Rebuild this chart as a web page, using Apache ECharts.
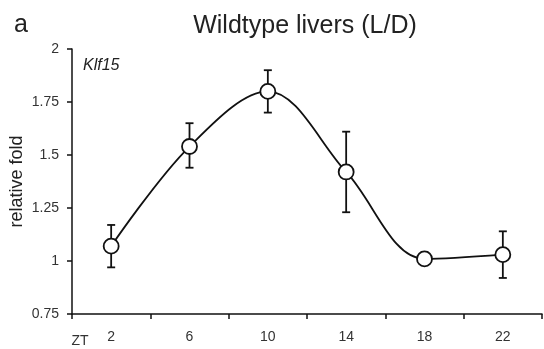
<!DOCTYPE html>
<html>
<head>
<meta charset="utf-8">
<script src="https://cdn.jsdelivr.net/npm/echarts@6/dist/echarts.min.js"></script>
<style>
  html, body { margin: 0; padding: 0; background: #fff; }
  #chart { width: 544px; height: 349px; }
</style>
</head>
<body>
<div id="chart"></div>
<script>
// ZT time points and Klf15 relative fold (mean, error bar ends)
const zt = ['2', '6', '10', '14', '18', '22'];
const foldMean = [1.07, 1.54, 1.80, 1.42, 1.01, 1.03];
const errLow = [0.97, 1.44, 1.70, 1.23, 0.98, 0.92];
const errHigh = [1.17, 1.65, 1.90, 1.61, 1.04, 1.14];
const yTicks = [0.75, 1, 1.25, 1.5, 1.75, 2];

const textFont = 'Liberation Sans, Arial, sans-serif';
let myChart = echarts.init(document.getElementById('chart'));

let option = {
  backgroundColor: '#fff',
  animation: false,
  textStyle: { fontFamily: textFont },
  title: [
    {
      text: 'Wildtype livers (L/D)',
      left: 300,
      top: 9,
      textAlign: 'center',
      textStyle: { fontSize: 25, fontWeight: 'normal', color: '#222', fontFamily: textFont }
    },
    {
      text: 'a',
      left: 9,
      top: 8,
      textStyle: { fontSize: 25, fontWeight: 'normal', color: '#222', fontFamily: textFont }
    },
    {
      text: 'Klf15',
      left: 78,
      top: 53,
      textStyle: { fontSize: 16, fontWeight: 'normal', fontStyle: 'italic', color: '#222', fontFamily: textFont }
    },
    {
      text: 'ZT',
      left: 75,
      top: 329,
      textAlign: 'center',
      textStyle: { fontSize: 14, fontWeight: 'normal', color: '#333', fontFamily: textFont }
    }
  ],
  grid: {
    left: 72,
    right: 2,
    top: 49,
    bottom: 35,
    outerBoundsMode: 'none'
  },
  xAxis: {
    type: 'category',
    data: zt,
    boundaryGap: true,
    axisLine: { lineStyle: { color: '#111', width: 1.5 } },
    axisTick: { show: true, length: 5, inside: false, lineStyle: { color: '#111', width: 1.5 } },
    axisLabel: { color: '#333', fontSize: 14, margin: 16 },
    splitLine: { show: false }
  },
  yAxis: {
    type: 'value',
    min: 0.75,
    max: 2,
    interval: 0.25,
    name: 'relative fold',
    nameLocation: 'middle',
    nameGap: 46,
    nameMoveOverlap: false,
    nameTextStyle: { fontSize: 18, color: '#222' },
    axisLine: { show: true, lineStyle: { color: '#111', width: 1.5 } },
    axisTick: { show: true, length: 5, lineStyle: { color: '#111', width: 1.5 } },
    axisLabel: {
      color: '#333',
      fontSize: 14,
      margin: 13,
      formatter: function (v) {
        return yTicks.indexOf(v) >= 0 ? String(v) : '';
      }
    },
    splitLine: { show: false }
  },
  series: [
    {
      type: 'custom',
      z: 1,
      data: zt.map((t, i) => [i, errLow[i], errHigh[i]]),
      renderItem: function (params, api) {
        let lo = api.coord([api.value(0), api.value(1)]);
        let hi = api.coord([api.value(0), api.value(2)]);
        let cap = 4;
        let st = { stroke: '#111', lineWidth: 1.8 };
        return {
          type: 'group',
          children: [
            { type: 'line', shape: { x1: lo[0], y1: lo[1], x2: hi[0], y2: hi[1] }, style: st },
            { type: 'line', shape: { x1: lo[0] - cap, y1: lo[1], x2: lo[0] + cap, y2: lo[1] }, style: st },
            { type: 'line', shape: { x1: hi[0] - cap, y1: hi[1], x2: hi[0] + cap, y2: hi[1] }, style: st }
          ]
        };
      }
    },
    {
      type: 'line',
      z: 2,
      data: foldMean,
      smooth: 0.35,
      symbol: 'circle',
      symbolSize: 15,
      lineStyle: { color: '#111', width: 1.8 },
      itemStyle: { color: '#fff', borderColor: '#111', borderWidth: 1.8 }
    }
  ]
};

myChart.setOption(option);
window.onresize = myChart.resize;
</script>
</body>
</html>
